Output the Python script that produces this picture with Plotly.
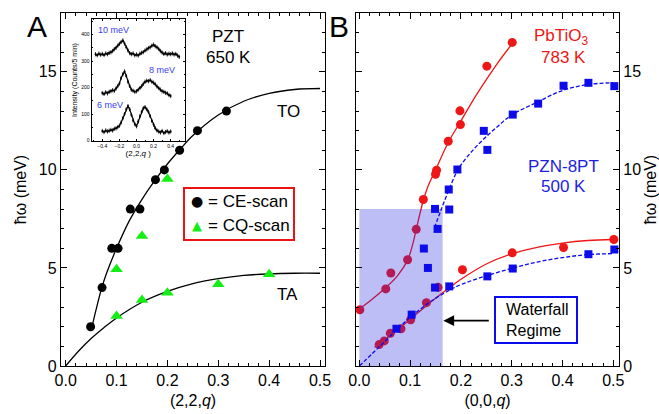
import plotly.graph_objects as go

W, H = 659, 414

# ---------------- Panel A data (PZT 650 K, (2,2,q)) ----------------
ce_q = [0.049, 0.0715, 0.0906, 0.103, 0.127, 0.146, 0.1765, 0.194, 0.224, 0.259, 0.316]
ce_e = [2.0, 4.0, 6.0, 6.0, 8.0, 8.0, 9.5, 10.0, 11.0, 12.0, 13.0]
cq_q = [0.1, 0.15, 0.2, 0.1, 0.15, 0.2, 0.3, 0.4]
cq_e = [4.93, 6.63, 9.54, 2.55, 3.37, 3.74, 4.17, 4.68]
to_fit_q = [0.05, 0.06, 0.07, 0.08, 0.1, 0.125, 0.15, 0.175, 0.2, 0.225, 0.25, 0.3, 0.35, 0.4, 0.45, 0.5]
to_fit_e = [1.8, 2.9, 3.9, 4.7, 6.0, 7.4, 8.5, 9.45, 10.3, 11.05, 11.75, 12.8, 13.5, 13.9, 14.1, 14.15]
ta_fit_q = [0.0, 0.025, 0.05, 0.075, 0.1, 0.15, 0.2, 0.25, 0.3, 0.35, 0.4, 0.45, 0.5]
ta_fit_e = [0.0, 0.75, 1.4, 1.95, 2.45, 3.25, 3.8, 4.2, 4.45, 4.62, 4.7, 4.73, 4.73]

# ---------------- Inset data (constant-E scans) ----------------
scan10_q = [round(-0.48 + 0.02 * i, 2) for i in range(50)]
scan10_i = [326, 322, 328, 324, 327, 323, 329, 326, 331, 333, 338, 345, 350, 358, 365, 372, 378, 366,
            352, 340, 330, 326, 329, 322, 325, 321, 328, 331, 334, 340, 344, 349, 352, 358, 362, 356,
            352, 346, 338, 332, 327, 330, 325, 328, 326, 329, 325, 327, 321, 316]
scan8_q = [round(-0.40 + 0.02 * i, 2) for i in range(41)]
scan8_i = [179, 176, 182, 178, 184, 186, 190, 188, 196, 205, 215, 236, 250, 261, 244, 222, 206, 192,
           188, 184, 186, 192, 198, 205, 214, 222, 226, 224, 228, 222, 218, 212, 204, 198, 192, 186,
           184, 180, 178, 172, 168]
scan6_q = [round(-0.40 + 0.02 * i, 2) for i in range(41)]
scan6_i = [36, 32, 38, 34, 37, 40, 38, 44, 46, 50, 56, 68, 84, 100, 118, 130, 118, 96, 76, 62, 54,
           72, 92, 108, 122, 126, 118, 108, 92, 74, 60, 46, 38, 34, 30, 36, 28, 32, 35, 30, 34]
scan_err = 8

# ---------------- Panel B data ((0,0,q)) ----------------
pto_to_q = [0.001, 0.052, 0.062, 0.095, 0.112, 0.126, 0.150, 0.152, 0.175, 0.199, 0.198, 0.251, 0.301]
pto_to_e = [2.87, 3.93, 4.74, 5.42, 6.97, 8.49, 9.78, 9.98, 11.46, 12.31, 13.01, 15.29, 16.50]
pto_ta_q = [0.039, 0.049, 0.061, 0.082, 0.101, 0.132, 0.155, 0.203, 0.301, 0.402, 0.501]
pto_ta_e = [1.09, 1.28, 1.67, 1.90, 2.36, 3.23, 4.01, 4.91, 5.77, 6.04, 6.45]
pzn_to_q = [0.127, 0.135, 0.149, 0.149, 0.154, 0.176, 0.177, 0.193, 0.245, 0.252, 0.302, 0.352, 0.402, 0.451, 0.502]
pzn_to_e = [5.99, 5.0, 4.0, 8.01, 6.99, 9.0, 7.98, 10.02, 11.99, 11.02, 12.82, 13.38, 14.29, 14.44, 14.27]
pzn_ta_q = [0.073, 0.103, 0.177, 0.252, 0.302, 0.451, 0.502]
pzn_ta_e = [1.9, 2.62, 4.06, 4.57, 4.97, 5.70, 5.94]

pto_to_fit_q = [0.0, 0.025, 0.05, 0.075, 0.095, 0.105, 0.115, 0.125, 0.135, 0.15, 0.175, 0.2, 0.225, 0.25, 0.275, 0.3]
pto_to_fit_e = [2.9, 3.4, 3.95, 4.6, 5.4, 6.2, 7.3, 8.35, 9.15, 10.0, 11.4, 12.5, 13.6, 14.6, 15.55, 16.4]
pto_ta_fit_q = [0.03, 0.05, 0.075, 0.1, 0.125, 0.15, 0.175, 0.2, 0.25, 0.3, 0.35, 0.4, 0.45, 0.5]
pto_ta_fit_e = [0.95, 1.35, 1.85, 2.38, 2.92, 3.45, 3.95, 4.42, 5.2, 5.72, 6.05, 6.27, 6.4, 6.45]
pzn_to_fit_q = [0.148, 0.16, 0.175, 0.19, 0.2, 0.225, 0.25, 0.275, 0.3, 0.35, 0.4, 0.45, 0.5]
pzn_to_fit_e = [7.05, 7.9, 8.9, 9.8, 10.25, 11.05, 11.7, 12.28, 12.8, 13.45, 14.05, 14.35, 14.45]
pzn_ta_fit_q = [0.0, 0.025, 0.05, 0.075, 0.1, 0.125, 0.15, 0.175, 0.2, 0.25, 0.3, 0.35, 0.4, 0.45, 0.5]
pzn_ta_fit_e = [0.0, 0.62, 1.25, 1.88, 2.48, 3.0, 3.45, 3.83, 4.15, 4.6, 4.98, 5.3, 5.53, 5.68, 5.73]

waterfall_q = [0.0, 0.164]
waterfall_e_max = 8.0

# ---------------- styling helpers ----------------
FONT = "Liberation Sans, Arial, sans-serif"
RED = "rgb(238,22,22)"
BLUE = "rgb(12,12,235)"
GREEN = "rgb(20,238,20)"
TXT_BLUE = "rgb(30,30,225)"


def px(x):
    return x / W


def py(y):
    return 1 - y / H


fig = go.Figure()

# Panel A
fig.add_trace(go.Scatter(x=to_fit_q, y=to_fit_e, mode="lines",
                         line=dict(color="black", width=1.3, shape="spline"), xaxis="x", yaxis="y"))
fig.add_trace(go.Scatter(x=ta_fit_q, y=ta_fit_e, mode="lines",
                         line=dict(color="black", width=1.3, shape="spline"), xaxis="x", yaxis="y"))
fig.add_trace(go.Scatter(x=ce_q, y=ce_e, mode="markers",
                         marker=dict(color="black", size=9, symbol="circle"), xaxis="x", yaxis="y"))
fig.add_trace(go.Scatter(x=cq_q, y=cq_e, mode="markers",
                         marker=dict(color=GREEN, size=11, symbol="triangle-up"), xaxis="x", yaxis="y"))

# Inset
for qq, ii in [(scan10_q, scan10_i), (scan8_q, scan8_i), (scan6_q, scan6_i)]:
    fig.add_trace(go.Scatter(x=qq, y=ii, mode="lines+markers",
                             line=dict(color="black", width=1.2),
                             marker=dict(color="black", size=2),
                             error_y=dict(type="constant", value=scan_err, color="black",
                                          thickness=0.8, width=0),
                             xaxis="x3", yaxis="y3"))

# Panel B: red traces, then overlay region, then blue traces
fig.add_trace(go.Scatter(x=pto_to_fit_q, y=pto_to_fit_e, mode="lines",
                         line=dict(color=RED, width=1.3, shape="spline"), xaxis="x2", yaxis="y2"))
fig.add_trace(go.Scatter(x=pto_ta_fit_q, y=pto_ta_fit_e, mode="lines",
                         line=dict(color=RED, width=1.3, shape="spline"), xaxis="x2", yaxis="y2"))
fig.add_trace(go.Scatter(x=pto_to_q + pto_ta_q, y=pto_to_e + pto_ta_e, mode="markers",
                         marker=dict(color=RED, size=9, symbol="circle"), xaxis="x2", yaxis="y2"))
wq0, wq1 = waterfall_q
fig.add_trace(go.Scatter(x=[wq0, wq1, wq1, wq0, wq0], y=[0, 0, waterfall_e_max, waterfall_e_max, 0],
                         mode="lines", fill="toself", fillcolor="rgba(40,40,225,0.30)",
                         line=dict(width=0, color="rgba(0,0,0,0)"), xaxis="x2", yaxis="y2"))
fig.add_trace(go.Scatter(x=pzn_to_fit_q, y=pzn_to_fit_e, mode="lines",
                         line=dict(color=BLUE, width=1.3, shape="spline", dash="4px,2px"),
                         xaxis="x2", yaxis="y2"))
fig.add_trace(go.Scatter(x=pzn_ta_fit_q, y=pzn_ta_fit_e, mode="lines",
                         line=dict(color=BLUE, width=1.3, shape="spline", dash="4px,2px"),
                         xaxis="x2", yaxis="y2"))
fig.add_trace(go.Scatter(x=pzn_to_q + pzn_ta_q, y=pzn_to_e + pzn_ta_e, mode="markers",
                         marker=dict(color=BLUE, size=8, symbol="square"), xaxis="x2", yaxis="y2"))

tickfont = dict(size=16, family=FONT, color="black")
common = dict(showline=True, linecolor="black", linewidth=1.3, mirror="allticks",
              ticks="inside", ticklen=6, tickwidth=1.2, tickcolor="black",
              showgrid=False, zeroline=False, tickfont=tickfont, automargin=False)
ydom = [py(366), py(13)]
minor_x = dict(dtick=0.02, ticklen=3, ticks="inside", tickcolor="black", tickwidth=1)
minor_y = dict(dtick=1, ticklen=3, ticks="inside", tickcolor="black", tickwidth=1)

fig.update_layout(
    width=W, height=H, autosize=False,
    margin=dict(l=0, r=0, t=0, b=0, autoexpand=False),
    paper_bgcolor="white", plot_bgcolor="white",
    showlegend=False, hovermode=False,
    font=dict(family=FONT, color="black"),
    xaxis=dict(common, domain=[px(61), px(325)], range=[-0.0092, 0.5098], anchor="y",
               tick0=0, dtick=0.1, tickformat=".1f", minor=minor_x,
               title=dict(text="(2,2,<i>q</i>)", font=dict(size=16, family=FONT), standoff=6)),
    yaxis=dict(common, domain=ydom, range=[0, 18], anchor="x",
               tick0=0, dtick=5, minor=minor_y,
               title=dict(text="ħω (meV)", font=dict(size=16, family=FONT), standoff=8)),
    xaxis2=dict(common, domain=[px(356), px(619)], range=[-0.0066, 0.5112], anchor="y2",
                tick0=0, dtick=0.1, tickformat=".1f", minor=minor_x,
                title=dict(text="(0,0,<i>q</i>)", font=dict(size=16, family=FONT), standoff=6)),
    yaxis2=dict(common, domain=ydom, range=[0, 18], anchor="x2", side="right",
                tick0=0, dtick=5, minor=minor_y,
                title=dict(text="ħω (meV)", font=dict(size=16, family=FONT), standoff=5)),
    xaxis3=dict(showline=True, linecolor="black", linewidth=0.8, mirror="allticks",
                ticks="inside", ticklen=2, tickwidth=0.7, tickcolor="black",
                showgrid=False, zeroline=False, automargin=False,
                domain=[px(91.5), px(185)], range=[-0.527, 0.568], anchor="y3",
                tick0=0, dtick=0.2, tickformat=".1f",
                minor=dict(dtick=0.1, ticklen=1.5, ticks="inside", tickcolor="black"),
                tickfont=dict(size=5, family=FONT),
                title=dict(text="(2,2,<i>q</i> )", font=dict(size=8, family=FONT), standoff=2)),
    yaxis3=dict(showline=True, linecolor="black", linewidth=0.8, mirror="allticks",
                ticks="inside", ticklen=2, tickwidth=0.7, tickcolor="black",
                showgrid=False, zeroline=False, automargin=False,
                domain=[py(141.3), py(18.7)], range=[-3, 460], anchor="x3",
                tick0=0, dtick=100,
                minor=dict(dtick=50, ticklen=1.5, ticks="inside", tickcolor="black"),
                tickfont=dict(size=5, family=FONT),
                title=dict(text="Intensity (Counts/5 min)", font=dict(size=7, family=FONT), standoff=2)),
)


def note(text, x, y, size=17, color="black", xanchor="center", family=FONT, align="center"):
    fig.add_annotation(text=text, x=px(x), y=py(y), xref="paper", yref="paper",
                       showarrow=False, xanchor=xanchor, yanchor="middle", align=align,
                       font=dict(size=size, color=color, family=family))


note("A", 37, 26, size=30)
note("B", 339, 26, size=30)
note("PZT", 228, 37)
note("650 K", 228, 58)
note("TO", 288, 111)
note("TA", 287, 294)
note("PbTiO<sub>3</sub>", 561, 37, color=RED)
note("783 K", 563, 58, color=RED)
note("PZN-8PT", 563, 166, color=TXT_BLUE)
note("500 K", 563, 186, color=TXT_BLUE)
note("10 meV", 113.3, 30.3, size=9, color="rgb(60,60,240)")
note("8 meV", 162.3, 70.3, size=9, color="rgb(60,60,240)")
note("6 meV", 110, 105.3, size=9, color="rgb(60,60,240)")

# legend box in panel A
fig.add_shape(type="rect", xref="paper", yref="paper", x0=px(184), x1=px(294), y0=py(240), y1=py(188),
              line=dict(color="rgb(235,20,20)", width=2), fillcolor="white")
note("●", 196.7, 201.5, size=14, family="DejaVu Sans")
note("▲", 197.3, 225.0, size=13, color=GREEN, family="DejaVu Sans")
note("= CE-scan", 206, 201.5, xanchor="left")
note("= CQ-scan", 206, 225.7, xanchor="left")

# waterfall box + arrow in panel B
fig.add_shape(type="rect", xref="paper", yref="paper", x0=px(495), x1=px(577), y0=py(343), y1=py(297),
              line=dict(color=BLUE, width=2), fillcolor="white")
note("Waterfall<br>Regime", 504, 320, size=16, xanchor="left", align="left")
fig.add_annotation(x=px(443.3), y=py(320.7), xref="paper", yref="paper", text="",
                   showarrow=True, ax=47, ay=0, arrowhead=2, arrowsize=1.2, arrowwidth=1.8,
                   arrowcolor="black")

fig.write_html("out.html", config={"displayModeBar": False},
               post_script="document.body.style.margin='0';document.body.style.overflow='hidden';")
